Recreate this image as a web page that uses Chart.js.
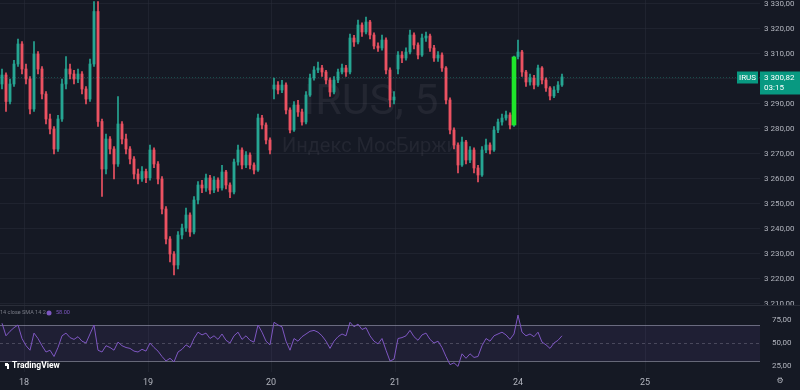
<!DOCTYPE html>
<html>
<head>
<meta charset="utf-8">
<script src="https://cdn.jsdelivr.net/npm/chart.js@4.4.1/dist/chart.umd.min.js"></script>
<style>
  html, body { margin: 0; padding: 0; background: #151924; overflow: hidden; }
  #wrap { position: relative; width: 800px; height: 390px; }
  #price { position: absolute; left: 0; top: 0; }
  #rsi { position: absolute; left: 0; top: 305px; }
</style>
</head>
<body>
<div id="wrap">
  <canvas id="price" width="800" height="305"></canvas>
  <canvas id="rsi" width="800" height="85"></canvas>
</div>
<script>
// IRUS 5m candles (one entry per candle)
const opens = [
  3298, 3301.6, 3291, 3298, 3306, 3314, 3304, 3300, 3288, 3310,
  3304, 3294, 3284, 3280, 3272, 3284, 3298, 3304, 3302, 3300,
  3302, 3296, 3292, 3306, 3327, 3283, 3264, 3276, 3272, 3266,
  3282, 3276, 3272, 3268, 3262, 3260, 3263, 3260.5, 3271.6, 3266,
  3260, 3248, 3236, 3230, 3225.6, 3237.6, 3240.4, 3245.6, 3238.8, 3251.6,
  3257.6, 3256.4, 3260.4, 3255.6, 3259.6, 3256.4, 3262.8, 3257.6, 3254.8, 3266.8,
  3271.6, 3265.6, 3269.6, 3265.6, 3263.6, 3284.4, 3281.6, 3275.6, 3296, 3297.6,
  3295.6, 3297.6, 3287.6, 3279.6, 3289.6, 3286.8, 3282.8, 3293.6, 3300.4, 3303.6,
  3304.4, 3302.8, 3299.6, 3294.8, 3299.6, 3302.8, 3304.4, 3302.8, 3316.4, 3314.8,
  3321.6, 3318.8, 3322.8, 3317.6, 3313.2, 3312.4, 3315.6, 3303.6, 3291.6, 3304,
  3309.6, 3308.4, 3310.8, 3317.6, 3313.6, 3309.6, 3316.4, 3317.2, 3312.4, 3308.4,
  3309.6, 3304.4, 3291.6, 3279.6, 3273.6, 3265.6, 3274.8, 3267.6, 3271.6, 3264.4,
  3261.6, 3271.6, 3273.6, 3271.6, 3279.6, 3282.8, 3284.4, 3285.6, 3281.6, 3309,
  3310.8, 3302.8, 3298.8, 3300.4, 3297.6, 3304.4, 3299.6, 3296.4, 3293.2, 3295.6,
  3297.6
];
const closes = [
  3301.6, 3291, 3298, 3306, 3314, 3304, 3300, 3288, 3310, 3304,
  3294, 3284, 3280, 3272, 3284, 3298, 3304, 3302, 3300, 3302,
  3296, 3292, 3306, 3327, 3283, 3264, 3276, 3272, 3266, 3282,
  3276, 3272, 3268, 3262, 3260, 3263, 3260.5, 3271.6, 3266, 3260,
  3248, 3236, 3230, 3225.6, 3237.6, 3240.4, 3245.6, 3238.8, 3251.6, 3257.6,
  3256.4, 3260.4, 3255.6, 3259.6, 3256.4, 3262.8, 3257.6, 3254.8, 3266.8, 3271.6,
  3265.6, 3269.6, 3265.6, 3263.6, 3284.4, 3281.6, 3275.6, 3271.6, 3297.6, 3295.6,
  3297.6, 3287.6, 3279.6, 3289.6, 3286.8, 3282.8, 3293.6, 3300.4, 3303.6, 3304.4,
  3302.8, 3299.6, 3294.8, 3299.6, 3302.8, 3304.4, 3302.8, 3316.4, 3314.8, 3321.6,
  3318.8, 3322.8, 3317.6, 3313.2, 3312.4, 3315.6, 3303.6, 3291.6, 3292.8, 3309.6,
  3308.4, 3310.8, 3317.6, 3313.6, 3309.6, 3316.4, 3317.2, 3312.4, 3308.4, 3309.6,
  3304.4, 3291.6, 3279.6, 3273.6, 3265.6, 3274.8, 3267.6, 3271.6, 3264.4, 3261.6,
  3271.6, 3273.6, 3271.6, 3279.6, 3282.8, 3284.4, 3285.6, 3281.6, 3308.8, 3310.8,
  3302.8, 3298.8, 3300.4, 3297.6, 3304.4, 3299.6, 3296.4, 3293.2, 3295.6, 3297.6,
  3300.82
];
const highs = [
  3304, 3302.5, 3300, 3307.5, 3316, 3315, 3306, 3301, 3315, 3311,
  3305, 3295, 3286, 3281, 3285.5, 3300, 3309, 3306, 3303.5, 3304,
  3303, 3297, 3308, 3331, 3331, 3284, 3278, 3277, 3273, 3293,
  3283, 3278, 3273, 3269, 3264, 3265, 3264, 3273.6, 3272.5, 3267,
  3261, 3249, 3237, 3231, 3239, 3242, 3248.4, 3246.5, 3253, 3259,
  3259.5, 3262, 3261.5, 3261, 3260.5, 3265.5, 3263.5, 3258.5, 3268, 3273.6,
  3272.5, 3271, 3270.5, 3266.5, 3286, 3285.5, 3282.5, 3276.5, 3300.4, 3299,
  3299.5, 3298.5, 3288.5, 3291, 3291.5, 3288, 3295, 3302, 3305, 3306.8,
  3305.5, 3303.5, 3300.5, 3301, 3304, 3306, 3305.5, 3318, 3317.5, 3323.6,
  3322.5, 3324.8, 3323.5, 3318.5, 3314.5, 3317.6, 3316.5, 3304.5, 3295, 3311,
  3311, 3312.5, 3319.6, 3318.5, 3314.5, 3318, 3318.8, 3318, 3313.5, 3311,
  3310.5, 3305, 3292.5, 3280.5, 3274.5, 3276.8, 3275.5, 3273, 3272.5, 3265.5,
  3273, 3276, 3274.5, 3281, 3284, 3286, 3287.2, 3286.5, 3309.2, 3315.6,
  3311.5, 3303.5, 3302, 3301.5, 3305.6, 3305, 3300.5, 3297, 3297, 3299,
  3302
];
const lows = [
  3296, 3287, 3290, 3297, 3305, 3302, 3298, 3286, 3287, 3302,
  3292, 3282, 3278, 3270, 3271, 3283, 3296, 3300, 3298, 3298.5,
  3294, 3290, 3291, 3305, 3281, 3253, 3262, 3270, 3260, 3265,
  3274, 3270, 3266, 3260, 3258, 3259, 3258.5, 3259.5, 3264.5, 3258,
  3246, 3234, 3226.8, 3221.6, 3224, 3236, 3239, 3237, 3238, 3250,
  3254.5, 3255, 3254, 3254.5, 3255, 3255.5, 3256, 3252.5, 3254, 3265.5,
  3264, 3264.5, 3264, 3262, 3263, 3280, 3274, 3270, 3292, 3294,
  3294.5, 3286, 3278.4, 3279, 3285, 3281.5, 3282, 3293, 3299.5, 3302.5,
  3301, 3298, 3293, 3294, 3298.5, 3302, 3301, 3302, 3313, 3314,
  3317, 3318, 3316, 3312, 3311, 3311.5, 3302, 3288.8, 3290, 3302,
  3306.5, 3307.5, 3310, 3312, 3308, 3309, 3315, 3311, 3307, 3307,
  3303, 3290, 3278, 3272, 3262.4, 3265, 3266, 3266.5, 3262.4, 3258.8,
  3261, 3270.5, 3270, 3271, 3278.5, 3281.5, 3283.5, 3280, 3281, 3308,
  3301, 3297, 3297.5, 3296, 3297, 3298, 3295, 3291.6, 3292.5, 3294.5,
  3297
];
// RSI 14 values, one per candle
const rsiVals = [
  72, 58, 63, 67, 70, 55, 47, 42, 61, 55,
  47, 40, 42, 35, 45, 58, 61, 56, 54, 57,
  52, 50, 60, 70, 42, 40, 47, 45, 42, 51,
  47, 45, 44, 41, 40, 43, 41, 50, 45, 41,
  35, 30, 33, 29, 40, 43, 48, 45, 55, 62,
  59, 61, 55, 58, 54, 60, 53, 50, 58, 62,
  54, 58, 53, 51, 70, 62, 52, 48, 73, 70,
  68, 52, 42, 55, 52, 57, 60, 63, 64, 62,
  58, 52, 44, 52, 57, 60, 58, 73, 68, 71,
  65, 67, 58, 52, 49, 55, 42, 30, 32, 55,
  56, 58, 64, 57, 53, 59, 61, 54, 50, 52,
  45, 35, 26, 28, 24, 38, 33, 38, 34, 35,
  47, 55, 52, 58, 60, 62, 59, 54, 60, 81,
  62, 58, 60, 57, 62, 51, 48, 44, 50, 53,
  58
];
const highlightIdx = 128;   // the bright green bar before the 24th open

// axis ticks
const dayTicks = [5.5, 36.5, 67.25, 98.25, 129, 160.75];
const dayLabels = ['18', '19', '20', '21', '24', '25'];
const priceTicks = [3210, 3220, 3230, 3240, 3250, 3260, 3270, 3280, 3290, 3300, 3310, 3320, 3330];
const rsiTicks = [25, 50, 75];
const rsiLevels = [70, 50, 30];

const xMin = -0.5, xMax = 189.5;
const upCol = '#26a693', downCol = '#ec5262';
const gridCol = 'rgba(42,46,57,0.5)';
const axisText = '#b2b5be';
const teal = '#089981';

function fmtPrice(v) {
  const [a, b] = v.toFixed(2).split('.');
  return a.replace(/\B(?=(\d{3})+(?!\d))/g, ' ') + ',' + b;
}

const idx = closes.map((_, i) => i);
const candleCols = idx.map(i => closes[i] >= opens[i] ? upCol : downCol);

const watermark = {
  id: 'watermark',
  beforeDatasetsDraw(chart) {
    const ctx = chart.ctx;
    ctx.save();
    ctx.fillStyle = 'rgba(120,123,134,0.14)';
    ctx.textAlign = 'center';
    ctx.textBaseline = 'middle';
    ctx.font = '43px Roboto, sans-serif';
    ctx.fillText('IRUS, 5', 371, 103);
    ctx.font = '20px Roboto, sans-serif';
    ctx.fillText('Индекс МосБиржи', 370, 147);
    ctx.restore();
  }
};

const lastTag = {
  id: 'lastTag',
  afterDraw(chart) {
    const ctx = chart.ctx;
    const last = closes[closes.length - 1];
    const y = Math.round(chart.scales.y.getPixelForValue(last)) + 0.5;
    const right = chart.chartArea.right;
    ctx.save();
    ctx.strokeStyle = 'rgba(34,171,148,0.35)';
    ctx.setLineDash([1, 2]);
    ctx.lineWidth = 1;
    ctx.beginPath();
    ctx.moveTo(0, y);
    ctx.lineTo(right, y);
    ctx.stroke();
    ctx.setLineDash([]);
    ctx.fillStyle = teal;
    ctx.fillRect(right - 23, y - 6, 21, 12);
    ctx.fillRect(right, y - 6, 40, 23);
    ctx.fillStyle = '#ffffff';
    ctx.font = '8px Roboto, sans-serif';
    ctx.textBaseline = 'middle';
    ctx.textAlign = 'center';
    ctx.fillText('IRUS', right - 12.5, y);
    ctx.textAlign = 'left';
    ctx.fillText(fmtPrice(last), right + 4, y);
    ctx.fillText('03:15', right + 4, y + 10);
    ctx.restore();
  }
};

new Chart(document.getElementById('price'), {
  type: 'bar',
  data: {
    datasets: [
      {
        label: 'wick',
        data: idx.map(i => ({ x: i, y: [lows[i], highs[i]] })),
        backgroundColor: candleCols,
        barThickness: 1,
        grouped: false,
        order: 3
      },
      {
        label: 'body',
        data: idx.map(i => ({ x: i, y: [opens[i], closes[i]] })),
        backgroundColor: candleCols,
        barThickness: 2.2,
        minBarLength: 1,
        grouped: false,
        order: 2
      },
      {
        label: 'highlight',
        data: [{ x: highlightIdx, y: [opens[highlightIdx], closes[highlightIdx]] }],
        backgroundColor: '#1fe62a',
        barThickness: 4,
        grouped: false,
        order: 1
      }
    ]
  },
  options: {
    responsive: false,
    animation: false,
    layout: { padding: 0 },
    plugins: { legend: { display: false }, tooltip: { enabled: false } },
    scales: {
      x: {
        type: 'linear', min: xMin, max: xMax, offset: false,
        grid: { color: gridCol, drawTicks: false, offset: false },
        border: { display: false },
        ticks: { display: false },
        afterBuildTicks: s => { s.ticks = dayTicks.map(v => ({ value: v })); },
        afterFit: s => { s.height = 0; s.paddingLeft = 0; s.paddingRight = 0; }
      },
      y: {
        position: 'right', min: 3209.6, max: 3331.6,
        grid: { color: gridCol, drawTicks: false },
        border: { display: false },
        ticks: { color: axisText, font: { family: 'Roboto', size: 8 }, padding: 4, callback: v => fmtPrice(v) },
        afterBuildTicks: s => { s.ticks = priceTicks.map(v => ({ value: v })); },
        afterFit: s => { s.width = 40; s.paddingTop = 0; s.paddingBottom = 0; }
      }
    }
  },
  plugins: [watermark, lastTag]
});

const rsiBand = {
  id: 'rsiBand',
  beforeDraw(chart) {
    const ctx = chart.ctx;
    ctx.save();
    ctx.strokeStyle = '#2a2e39';
    ctx.beginPath();
    ctx.moveTo(0, 0.5);
    ctx.lineTo(chart.width, 0.5);
    ctx.stroke();
    ctx.restore();
  },
  beforeDatasetsDraw(chart) {
    const { ctx, chartArea: a, scales: { y } } = chart;
    const yTop = y.getPixelForValue(rsiLevels[0]);
    const yMid = y.getPixelForValue(rsiLevels[1]);
    const yBot = y.getPixelForValue(rsiLevels[2]);
    ctx.save();
    ctx.fillStyle = 'rgba(126,87,194,0.1)';
    ctx.fillRect(a.left, yTop, a.right - a.left, yBot - yTop);
    ctx.strokeStyle = 'rgba(170,170,190,0.55)';
    ctx.lineWidth = 1;
    [yTop, yBot].forEach(py => {
      ctx.beginPath();
      ctx.moveTo(a.left, Math.round(py) + 0.5);
      ctx.lineTo(a.right, Math.round(py) + 0.5);
      ctx.stroke();
    });
    ctx.strokeStyle = 'rgba(170,170,190,0.3)';
    ctx.setLineDash([3, 3]);
    ctx.beginPath();
    ctx.moveTo(a.left, Math.round(yMid) + 0.5);
    ctx.lineTo(a.right, Math.round(yMid) + 0.5);
    ctx.stroke();
    ctx.restore();
  },
  afterDraw(chart) {
    const ctx = chart.ctx;
    ctx.save();
    ctx.textBaseline = 'middle';
    ctx.font = '5.5px Roboto, sans-serif';
    ctx.fillStyle = '#787b86';
    ctx.fillText('14 close SMA 14 2', 0, 8);
    ctx.fillStyle = '#7e57c2';
    ctx.beginPath();
    ctx.arc(49, 8, 2.5, 0, Math.PI * 2);
    ctx.fill();
    ctx.fillText(rsiVals[rsiVals.length - 1].toFixed(2), 56, 8);
    // logo
    ctx.fillStyle = '#ffffff';
    ctx.font = 'bold 8.5px Roboto, sans-serif';
    ctx.fillText('TradingView', 12, 61);
    ctx.fillRect(5, 58, 3, 3);
    ctx.fillRect(7, 59, 2, 5);
    ctx.fillStyle = axisText;
    ctx.font = '8px DejaVu Sans, sans-serif';
    ctx.textAlign = 'center';
    ctx.fillText('⚙', 780, 76);
    ctx.restore();
  }
};

new Chart(document.getElementById('rsi'), {
  type: 'line',
  data: {
    datasets: [{
      label: 'RSI',
      data: idx.map(i => ({ x: i, y: rsiVals[i] })),
      borderColor: '#7e57c2',
      borderWidth: 1,
      pointRadius: 0,
      tension: 0
    }]
  },
  options: {
    responsive: false,
    animation: false,
    layout: { padding: 0 },
    plugins: { legend: { display: false }, tooltip: { enabled: false } },
    scales: {
      x: {
        type: 'linear', min: xMin, max: xMax,
        grid: { color: gridCol, drawTicks: false },
        border: { display: false },
        ticks: { color: axisText, font: { family: 'Roboto', size: 9 }, padding: 5, maxRotation: 0, autoSkip: false,
                 callback: (v, i) => dayLabels[i] },
        afterBuildTicks: s => { s.ticks = dayTicks.map(v => ({ value: v })); },
        afterFit: s => { s.height = 18; s.paddingLeft = 0; s.paddingRight = 0; }
      },
      y: {
        position: 'right', min: 17.8, max: 92.2,
        grid: { display: false },
        border: { display: false },
        ticks: { color: axisText, font: { family: 'Roboto', size: 8 }, padding: 4,
                 callback: v => v.toFixed(2).replace('.', ',') },
        afterBuildTicks: s => { s.ticks = rsiTicks.map(v => ({ value: v })); },
        afterFit: s => { s.width = 40; s.paddingTop = 0; s.paddingBottom = 0; }
      }
    }
  },
  plugins: [rsiBand]
});
</script>
</body>
</html>
